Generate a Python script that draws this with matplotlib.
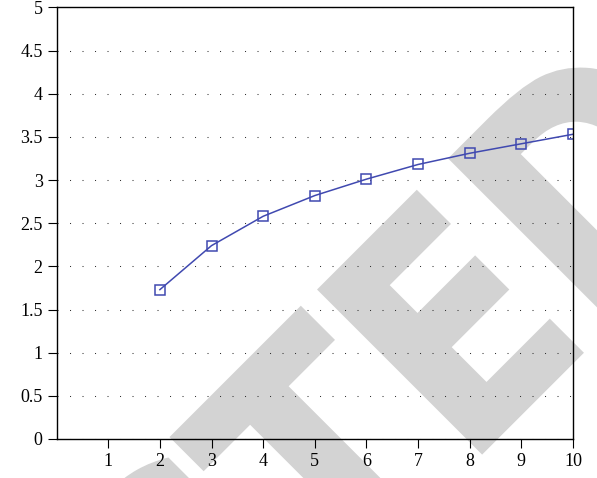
import numpy as np
import matplotlib.pyplot as plt
from matplotlib.textpath import TextPath
from matplotlib.font_manager import FontProperties
from matplotlib.patches import PathPatch
from matplotlib.transforms import Affine2D

# series
x = [2, 3, 4, 5, 6, 7, 8, 9, 10]
y = [1.73, 2.24, 2.58, 2.82, 3.01, 3.18, 3.31, 3.42, 3.53]

xticks = [1, 2, 3, 4, 5, 6, 7, 8, 9, 10]
yticks = [0, 0.5, 1, 1.5, 2, 2.5, 3, 3.5, 4, 4.5, 5]
ytick_labels = ['0', '0.5', '1', '1.5', '2', '2.5', '3', '3.5', '4', '4.5', '5']

plt.rcParams['font.family'] = ['Liberation Serif', 'DejaVu Serif']

fig = plt.figure(figsize=(5.97, 4.78), dpi=100)
ax = fig.add_axes([0.0948, 0.0816, 0.865, 0.903])
ax.patch.set_facecolor('none')

# big grey stamp lettering behind the plot
fp = FontProperties(family='DejaVu Sans', weight='bold')
word = 'PROTECTED'
tp = TextPath((0, 0), word, size=100, prop=fp)
t_only = TextPath((0, 0), 'T', size=100, prop=fp).vertices
cap = t_only[:, 1].max()
t_width = t_only[:, 0].max() - t_only[:, 0].min()
t_left = TextPath((0, 0), 'PROTECT', size=100, prop=fp).vertices[:, 0].max() - t_width
sy = 230 / cap
sx = 0.86 * sy
px = Affine2D().translate(-t_left, -cap).scale(sx, sy).rotate_deg(45)
px = px.translate(171, 478 - 438).scale(1 / fig.dpi)
stamp = PathPatch(tp, facecolor='#d3d3d3', edgecolor='#d3d3d3', linewidth=2.5,
                  transform=px + fig.dpi_scale_trans, zorder=-1)
fig.add_artist(stamp)

ax.plot(x, y, color='#4049b0', linewidth=1.1, marker='s', markersize=7.5,
        markerfacecolor='none', markeredgecolor='#4049b0', markeredgewidth=1.1)

ax.set_xlim(0, 10)
ax.set_ylim(0, 5)
ax.set_xticks(xticks)
ax.set_yticks(yticks)
ax.set_yticklabels(ytick_labels)
ax.yaxis.grid(True, linestyle=(0, (1, 11)), linewidth=0.75, color='#333333')
ax.tick_params(direction='out', length=6.5, width=0.8, labelsize=13,
               top=False, right=False)
for s in ax.spines.values():
    s.set_linewidth(1.0)

fig.savefig('out.png', dpi=100)
